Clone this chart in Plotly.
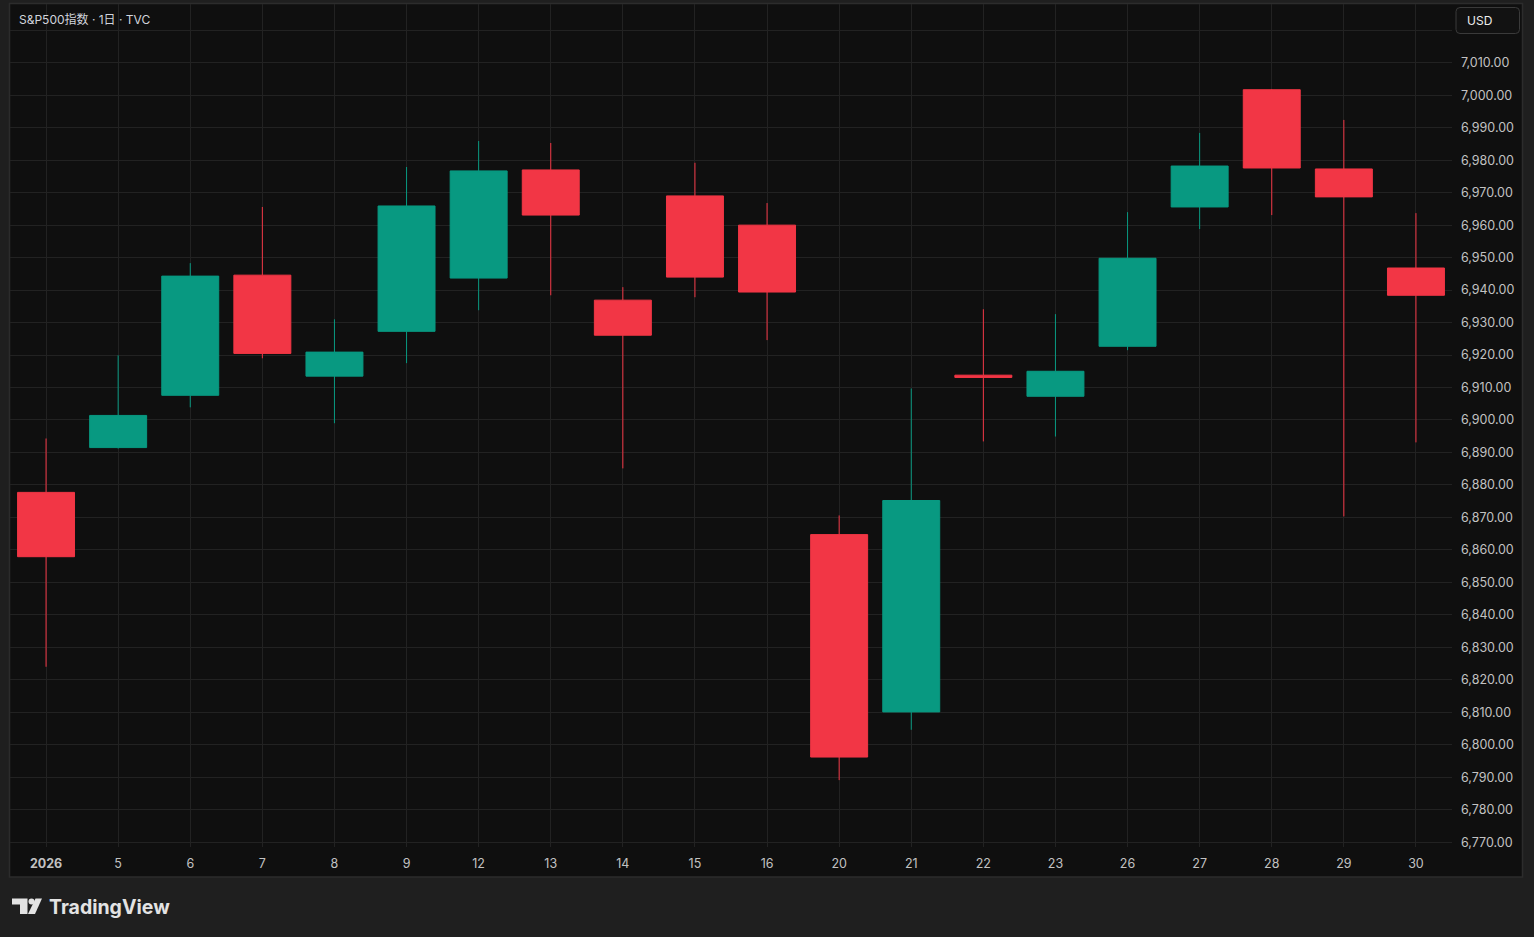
import plotly.graph_objects as go

# ---- data ----
labels = ["2026", "5", "6", "7", "8", "9", "12", "13", "14", "15",
          "16", "20", "21", "22", "23", "26", "27", "28", "29", "30"]
open_ = [6877.7, 6891.5, 6907.6, 6944.6, 6913.5, 6927.3, 6943.7, 6977.0, 6936.9, 6969.0,
         6960.0, 6864.7, 6810.1, 6913.8, 6907.3, 6922.7, 6965.6, 7001.7, 6977.3, 6946.8]
high = [6894.3, 6919.9, 6948.3, 6965.6, 6931.0, 6977.9, 6985.9, 6985.3, 6940.9, 6979.2,
        6966.8, 6870.6, 6909.7, 6934.1, 6932.6, 6964.0, 6988.4, 7001.9, 6992.4, 6963.7]
low = [6824.0, 6891.2, 6903.9, 6919.0, 6899.0, 6917.5, 6933.8, 6938.4, 6885.1, 6937.8,
       6924.6, 6789.1, 6804.6, 6893.4, 6894.9, 6921.5, 6958.8, 6963.1, 6870.3, 6893.1]
close = [6857.9, 6901.4, 6944.3, 6920.5, 6920.9, 6965.9, 6976.7, 6963.1, 6926.1, 6944.0,
         6939.4, 6796.2, 6875.2, 6913.1, 6915.0, 6949.8, 6978.2, 6977.6, 6968.7, 6938.4]
y_ticks = list(range(6770, 7030, 10))
title_text = "S&P500指数 · 1日 · TVC"

UP = "#089981"
DOWN = "#F23645"
FONT = "Inter, Noto Sans CJK SC, sans-serif"

W, H = 1534, 937
L, R, T, B = 10, 1452, 4, 847


def px(x):
    return (x - L) / (R - L)


def py(y):
    return (B - y) / (B - T)


xs = list(range(len(labels)))
fig = go.Figure()
fig.add_trace(go.Candlestick(
    x=xs, open=open_, high=high, low=low, close=close,
    increasing=dict(line=dict(color=UP, width=1), fillcolor=UP),
    decreasing=dict(line=dict(color=DOWN, width=1), fillcolor=DOWN),
    whiskerwidth=0, hoverinfo="skip", showlegend=False,
))

tick_text = [f"{v:,.2f}" for v in y_ticks]
tick_text[-1] = ""
x_text = ["<b>" + labels[0] + "</b>"] + labels[1:]

shapes = [
    # chart panel
    dict(type="rect", xref="paper", yref="paper", x0=px(9.5), x1=px(1522.5),
         y0=py(877), y1=py(3.5), fillcolor="#0F0F0F",
         line=dict(color="#2C2C2C", width=1.5), layer="below"),
]

# USD box (rounded)
x0, x1, y0, y1, r = 1456, 1519.5, 7.5, 33.5, 4


def rr(x0, y0, x1, y1, r):
    pts = [
        f"M {px(x0 + r)},{py(y0)}",
        f"L {px(x1 - r)},{py(y0)}",
        f"Q {px(x1)},{py(y0)} {px(x1)},{py(y0 + r)}",
        f"L {px(x1)},{py(y1 - r)}",
        f"Q {px(x1)},{py(y1)} {px(x1 - r)},{py(y1)}",
        f"L {px(x0 + r)},{py(y1)}",
        f"Q {px(x0)},{py(y1)} {px(x0)},{py(y1 - r)}",
        f"L {px(x0)},{py(y0 + r)}",
        f"Q {px(x0)},{py(y0)} {px(x0 + r)},{py(y0)} Z",
    ]
    return " ".join(pts)


shapes.append(dict(type="path", xref="paper", yref="paper", path=rr(x0, y0, x1, y1, r),
                   fillcolor="#121212", line=dict(color="#3A3A3A", width=1), layer="above"))

# TradingView logo mark
LOGO = "#E3E3E3"


def poly(points):
    return "M " + " L ".join(f"{px(a)},{py(b)}" for a, b in points) + " Z"


shapes.append(dict(type="path", xref="paper", yref="paper",
                   path=poly([(12, 898.5), (27.5, 898.5), (27.5, 914), (20, 914), (20, 904.5), (12, 904.5)]),
                   fillcolor=LOGO, line=dict(width=0), layer="above"))
shapes.append(dict(type="circle", xref="paper", yref="paper",
                   x0=px(28.5), x1=px(34.5), y0=py(904.5), y1=py(898.5),
                   fillcolor=LOGO, line=dict(width=0), layer="above"))
shapes.append(dict(type="path", xref="paper", yref="paper",
                   path=poly([(35.5, 898.5), (42, 898.5), (35, 914), (28, 914)]),
                   fillcolor=LOGO, line=dict(width=0), layer="above"))

annotations = [
    dict(text=title_text, xref="paper", yref="paper", x=px(17), y=py(19.5),
         xanchor="left", yanchor="middle", showarrow=False,
         font=dict(family=FONT, size=12, color="#D1D4DC")),
    dict(text="USD", xref="paper", yref="paper", x=px(1465), y=py(20.5),
         xanchor="left", yanchor="middle", showarrow=False,
         font=dict(family=FONT, size=12, color="#EDEDED")),
    dict(text="<b>TradingView</b>", xref="paper", yref="paper", x=px(47), y=py(907),
         xanchor="left", yanchor="middle", showarrow=False,
         font=dict(family=FONT, size=19.5, color=LOGO)),
]

fig.update_layout(
    width=W, height=H,
    margin=dict(l=L, r=W - R, t=T, b=H - B, pad=0),
    paper_bgcolor="#1F1F1F",
    plot_bgcolor="#0F0F0F",
    boxgap=0.21,
    boxgroupgap=0,
    showlegend=False,
    hovermode=False,
    shapes=shapes,
    annotations=annotations,
    xaxis=dict(
        range=[-0.5, 19.5], tickmode="array", tickvals=xs, ticktext=x_text,
        showgrid=True, gridcolor="#222222", gridwidth=1, zeroline=False,
        showline=False, ticks="", rangeslider=dict(visible=False),
        tickfont=dict(family=FONT, size=12.5, color="#C2C2C2"),
        ticklabelstandoff=7, fixedrange=True,
    ),
    yaxis=dict(
        range=[6768.5, 7028.1], side="right", tickmode="array",
        tickvals=y_ticks, ticktext=tick_text,
        showgrid=True, gridcolor="#222222", gridwidth=1, zeroline=False,
        showline=False, ticks="",
        tickfont=dict(family=FONT, size=12.5, color="#C2C2C2"),
        ticklabelstandoff=8, fixedrange=True,
    ),
)

fig.write_html("out.html", config={"displayModeBar": False},
               post_script="document.body.style.margin='0';document.body.style.overflow='hidden';")
